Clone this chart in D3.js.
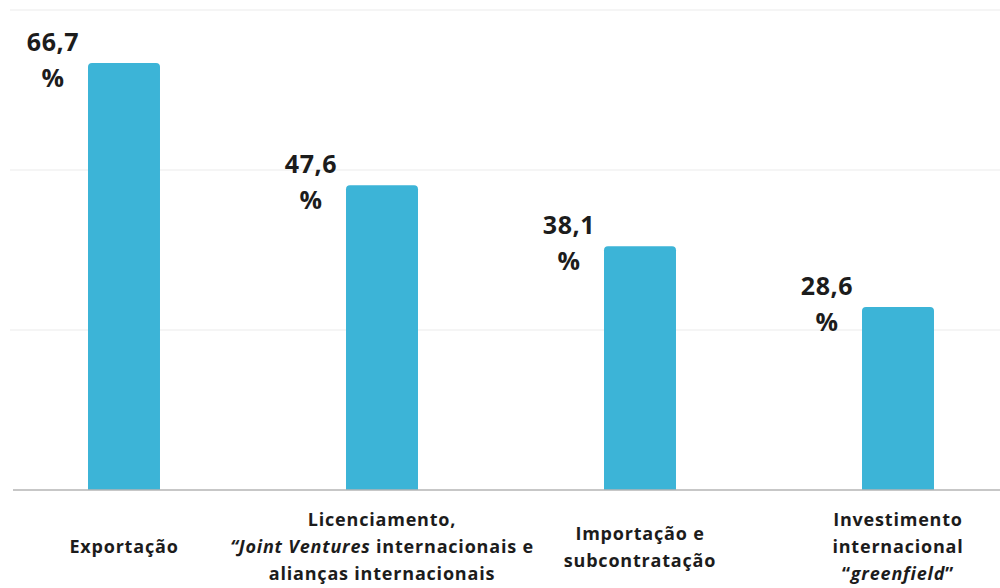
<!DOCTYPE html>
<html lang="pt-BR">
<head>
<meta charset="utf-8">
<title>Modos de entrada internacional</title>
<script src="https://cdn.jsdelivr.net/npm/d3@7"></script>
<style>
  html, body { margin: 0; padding: 0; background: #ffffff; }
  svg { display: block; }
  text { font-family: "Open Sans", "Noto Sans", sans-serif; fill: #1c1c1c; }
</style>
</head>
<body>
<svg id="chart" width="1000" height="588"></svg>
<script>
// Categories: each label is a list of lines; text between *...* is set in italics.
const categories = [
  ["Exportação"],
  ["Licenciamento,", "*“Joint Ventures* internacionais e", "alianças internacionais"],
  ["Importação e", "subcontratação"],
  ["Investimento", "internacional", "“*greenfield*”"]
];
const values = [66.7, 47.6, 38.1, 28.6];
const gridTicks = [0, 25, 50, 75];
const valueSuffix = "%";

const svg = d3.select("#chart");
const W = 1000, H = 588;

const ptBR = d3.formatLocale({ decimal: ",", thousands: ".", grouping: [3], currency: ["R$", ""] });
const fmt = ptBR.format(".1f");

const x = d3.scaleBand()
  .domain(d3.range(categories.length))
  .range([-5, 1027])
  .paddingInner(0.721)
  .paddingOuter(0.3605);

const y = d3.scaleLinear().domain([0, 75]).range([490, 10]);

// light horizontal grid
svg.append("g")
  .selectAll("line")
  .data(gridTicks.filter(t => t > 0))
  .join("line")
  .attr("x1", 10).attr("x2", W)
  .attr("y1", d => y(d)).attr("y2", d => y(d))
  .attr("stroke", "#ececec")
  .attr("stroke-width", 1.2);

// bars with rounded top corners
const r = 4;
svg.append("g")
  .selectAll("path")
  .data(values)
  .join("path")
  .attr("fill", "#3cb4d7")
  .attr("d", (d, i) => {
    const x0 = x(i), x1 = x(i) + x.bandwidth();
    const top = y(d), bot = y(0);
    return `M${x0},${bot}V${top + r}Q${x0},${top} ${x0 + r},${top}H${x1 - r}Q${x1},${top} ${x1},${top + r}V${bot}Z`;
  });

// baseline axis
const axis = svg.append("g")
  .attr("transform", `translate(0,${y(0)})`)
  .call(d3.axisBottom(x).tickSize(0).tickFormat(""));
axis.select(".domain")
  .attr("d", `M13,0H${W}`)
  .attr("stroke", "#b4b4b4")
  .attr("stroke-width", 1.5);

// value labels, placed to the upper left of each bar
const vl = svg.append("g")
  .selectAll("text")
  .data(values)
  .join("text")
  .attr("text-anchor", "middle")
  .attr("font-size", 25)
  .attr("font-weight", 700)
  .attr("letter-spacing", 0.6)
  .attr("x", (d, i) => x(i) + x.bandwidth() / 2 - 71)
  .attr("y", d => y(d) - 12);
vl.append("tspan").text(d => fmt(d));
vl.append("tspan")
  .attr("x", (d, i) => x(i) + x.bandwidth() / 2 - 71)
  .attr("dy", 36)
  .text(valueSuffix);

// category labels under the axis
const lineH = 27, midY = 553;
const cl = svg.append("g")
  .selectAll("text")
  .data(categories)
  .join("text")
  .attr("text-anchor", "middle")
  .attr("font-size", 18)
  .attr("font-weight", 700)
  .attr("letter-spacing", 0.8);

cl.each(function (lines, i) {
  const t = d3.select(this);
  const cx = x(i) + x.bandwidth() / 2;
  const y0 = midY - (lines.length - 1) * lineH / 2;
  lines.forEach((line, k) => {
    const parts = line.split("*");
    parts.forEach((p, j) => {
      if (!p) return;
      const ts = t.append("tspan").text(p);
      if (j % 2 === 1) ts.attr("font-style", "italic");
      if (j === 0 || (j === 1 && !parts[0])) {
        ts.attr("x", cx).attr("y", y0 + k * lineH);
      }
    });
  });
});
</script>
</body>
</html>
